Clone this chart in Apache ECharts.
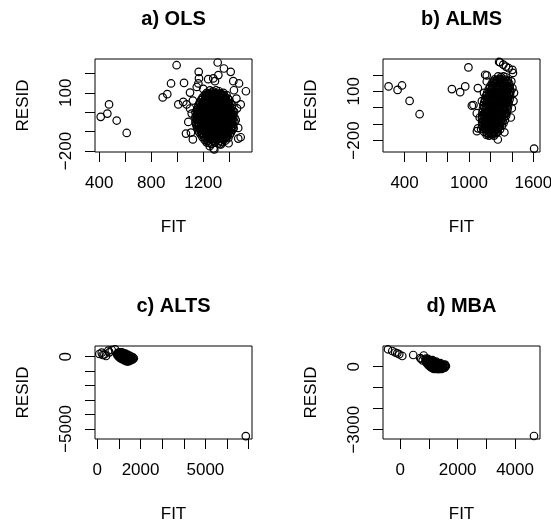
<!DOCTYPE html>
<html>
<head>
<meta charset="utf-8">
<title>Residual plots</title>
<script src="https://cdn.jsdelivr.net/npm/echarts@6/dist/echarts.min.js"></script>
<style>
html, body { margin: 0; padding: 0; background: #fff; }
#main { width: 551px; height: 527px; }
</style>
</head>
<body>
<div id="main"></div>
<script>
// panel titles
var panelTitles = ['a) OLS', 'b) ALMS', 'c) ALTS', 'd) MBA'];

// [FIT, RESID]
var olsPoints = [
  [411,-24],[462,-7],[475,40],[534,-43],[611,-107],
  [888,76],[923,93],[952,148],[995,242],[1008,40],[1046,53],[1052,151],[1072,40],[1098,101],[1067,-110],[1105,-105],
  [1162,148],[1165,208],[1167,174],[1238,170],[1277,174],[1290,160],[1311,256],[1316,191],[1359,225],[1411,208],[1431,160],
  [1475,148],[1528,108],[1436,113],[1488,40],[1469,-81],[1488,-129],[1469,-136],
  [1279,-187],[1285,-192],[1328,-165],[1336,-166],[1226,-156],
  [1098,19],[1085,-50],[1111,-7],[1120,-140],[1150,130],[1200,120],[1120,60],[1450,-40],[1460,20],[1455,70],[1395,-160],[1250,-175],
  [1240,-158],[1263,-163],[1291,-156],[1314,-161],[1345,-154],
  [1211,-143],[1232,-148],[1257,-141],[1280,-147],[1303,-144],[1327,-149],[1348,-140],[1372,-146],
  [1194,-128],[1217,-133],[1239,-127],[1261,-131],[1283,-126],[1306,-134],[1330,-129],[1353,-132],[1376,-127],[1393,-133],
  [1181,-115],[1204,-120],[1226,-114],[1249,-119],[1271,-116],[1293,-121],[1318,-113],[1339,-118],[1361,-115],[1382,-121],[1404,-116],
  [1167,-102],[1190,-107],[1213,-101],[1235,-106],[1258,-103],[1280,-108],[1302,-100],[1326,-105],[1348,-103],[1370,-108],[1393,-101],[1413,-106],
  [1159,-89],[1183,-94],[1204,-88],[1227,-93],[1248,-90],[1271,-95],[1293,-87],[1314,-92],[1338,-89],[1359,-94],[1382,-88],[1403,-93],[1425,-90],
  [1152,-77],[1173,-82],[1194,-76],[1217,-81],[1239,-78],[1260,-83],[1284,-75],[1304,-80],[1328,-77],[1348,-82],[1371,-76],[1394,-81],[1415,-78],[1434,-83],
  [1145,-64],[1167,-69],[1189,-63],[1209,-68],[1232,-65],[1254,-70],[1275,-62],[1299,-67],[1318,-64],[1343,-69],[1362,-63],[1387,-68],[1408,-65],[1429,-70],
  [1142,-51],[1161,-56],[1185,-50],[1204,-55],[1229,-52],[1248,-57],[1271,-49],[1291,-54],[1315,-51],[1335,-56],[1359,-50],[1379,-55],[1402,-52],[1421,-57],[1441,-51],
  [1148,-38],[1168,-43],[1191,-37],[1212,-42],[1236,-39],[1256,-44],[1280,-36],[1299,-41],[1323,-38],[1344,-43],[1367,-37],[1388,-42],[1411,-39],[1431,-44],
  [1139,-26],[1159,-31],[1179,-25],[1203,-30],[1223,-27],[1247,-32],[1267,-24],[1290,-29],[1310,-26],[1334,-31],[1354,-25],[1378,-30],[1397,-27],[1421,-32],[1440,-26],
  [1146,-13],[1165,-18],[1189,-12],[1209,-17],[1233,-14],[1253,-19],[1276,-11],[1296,-16],[1320,-13],[1340,-18],[1364,-12],[1383,-17],[1407,-14],[1427,-19],
  [1140,-1],[1162,-6],[1182,0],[1206,-5],[1225,-2],[1249,-7],[1269,1],[1293,-4],[1313,-1],[1337,-6],[1356,0],[1380,-5],[1400,-2],[1424,-7],[1438,2],
  [1151,12],[1170,7],[1194,13],[1214,8],[1238,11],[1257,6],[1281,14],[1301,9],[1325,12],[1345,7],[1368,13],[1389,8],[1413,11],[1430,6],
  [1157,24],[1177,19],[1201,25],[1220,20],[1244,23],[1264,18],[1288,26],[1308,21],[1331,24],[1351,19],[1375,25],[1395,20],[1419,23],
  [1164,37],[1184,32],[1208,38],[1228,33],[1252,36],[1272,31],[1296,39],[1315,34],[1339,37],[1359,32],[1383,38],[1403,33],[1423,36],
  [1173,50],[1194,45],[1218,51],[1238,46],[1261,49],[1281,44],[1305,52],[1325,47],[1349,50],[1369,45],[1392,51],[1410,46],
  [1183,62],[1204,57],[1228,63],[1248,58],[1272,61],[1291,56],[1315,64],[1335,59],[1359,62],[1379,57],[1400,63],
  [1194,75],[1215,70],[1239,76],[1258,71],[1282,74],[1302,69],[1326,77],[1346,72],[1369,75],[1389,70],
  [1211,88],[1231,83],[1255,89],[1275,84],[1299,87],[1318,82],[1342,90],[1361,85],[1379,88],
  [1227,100],[1247,95],[1271,101],[1290,96],[1314,99],[1334,94],[1355,100],
  [1251,112],[1274,107],[1299,113],[1321,108],
  // dense core
  [1228,-137],[1253,-135],[1272,-139],[1295,-136],[1317,-138],[1342,-135],[1363,-139],
  [1192,-111],[1216,-109],[1237,-112],[1261,-110],[1281,-113],[1307,-109],[1328,-111],[1351,-110],[1371,-112],[1394,-109],
  [1171,-85],[1194,-83],[1215,-86],[1239,-84],[1259,-87],[1284,-83],[1303,-86],[1327,-84],[1348,-87],[1371,-83],[1391,-86],[1414,-84],
  [1156,-60],[1179,-58],[1198,-61],[1222,-59],[1242,-62],[1265,-58],[1286,-61],[1309,-59],[1329,-62],[1353,-58],[1373,-61],[1397,-59],[1417,-62],
  [1151,-34],[1173,-32],[1193,-35],[1217,-33],[1238,-36],[1261,-32],[1282,-35],[1306,-33],[1326,-36],[1350,-32],[1370,-35],[1394,-33],[1414,-36],
  [1153,-9],[1176,-7],[1196,-10],[1220,-8],[1240,-11],[1263,-7],[1284,-10],[1307,-8],[1327,-11],[1351,-7],[1371,-10],[1395,-8],[1415,-11],
  [1162,16],[1185,18],[1205,15],[1229,17],[1249,14],[1273,18],[1293,15],[1317,17],[1337,14],[1361,18],[1381,15],[1405,17],
  [1176,41],[1199,43],[1219,40],[1243,42],[1263,39],[1287,43],[1307,40],[1331,42],[1351,39],[1375,43],[1395,40],
  [1194,66],[1217,68],[1237,65],[1261,67],[1281,64],[1305,68],[1325,65],[1349,67],[1369,64],
  [1221,91],[1244,93],[1264,90],[1288,92],[1308,89],[1332,93],[1350,90]
];

var almsPoints = [
  [251,129],[335,108],[376,135],[447,41],[540,-40],
  [841,113],[918,94],[965,129],[995,245],[1027,12],[1042,16],[1073,-34],[1083,119],[1083,-126],[1113,-130],[1074,-143],
  [1166,196],[1166,159],[1151,200],[1281,278],[1290,276],[1320,262],[1345,250],[1370,240],[1405,230],[1410,211],
  [1399,-4],[1405,119],[1269,-194],[1607,-249],
  [1395,160],[1420,90],[1415,40],[1390,-60],[1330,-150],[1150,-100],[1100,-60],[1120,40],[1140,90],
  [1272,190],[1298,186],[1322,191],[1343,185],
  [1240,172],[1263,167],[1289,173],[1312,168],[1337,171],[1362,166],
  [1218,152],[1240,147],[1264,153],[1287,148],[1311,151],[1334,146],[1357,152],[1375,147],
  [1199,132],[1222,127],[1245,133],[1268,128],[1292,131],[1315,126],[1338,132],[1360,127],[1380,130],
  [1184,112],[1206,107],[1229,113],[1252,108],[1276,111],[1298,106],[1322,112],[1344,107],[1366,110],[1384,105],
  [1170,92],[1192,87],[1215,93],[1238,88],[1262,91],[1284,86],[1308,92],[1330,87],[1353,90],[1373,85],[1386,93],
  [1159,72],[1181,67],[1204,73],[1227,68],[1251,71],[1273,66],[1297,72],[1319,67],[1342,70],[1364,65],[1384,71],
  [1150,52],[1172,47],[1195,53],[1218,48],[1242,51],[1264,46],[1288,52],[1310,47],[1333,50],[1355,45],[1379,51],
  [1142,32],[1164,27],[1187,33],[1210,28],[1234,31],[1256,26],[1280,32],[1302,27],[1325,30],[1347,25],[1370,31],
  [1135,12],[1157,7],[1180,13],[1203,8],[1227,11],[1249,6],[1273,12],[1295,7],[1318,10],[1340,5],[1365,11],
  [1130,-8],[1152,-13],[1175,-7],[1198,-12],[1222,-9],[1244,-14],[1268,-8],[1290,-13],[1313,-10],[1335,-15],[1360,-9],
  [1126,-28],[1148,-33],[1171,-27],[1194,-32],[1218,-29],[1240,-34],[1264,-28],[1286,-33],[1309,-30],[1331,-35],[1354,-29],
  [1123,-48],[1145,-53],[1168,-47],[1191,-52],[1215,-49],[1237,-54],[1261,-48],[1283,-53],[1306,-50],[1328,-55],[1346,-49],
  [1122,-68],[1144,-73],[1167,-67],[1190,-72],[1213,-69],[1235,-74],[1259,-68],[1281,-73],[1303,-70],[1335,-75],
  [1123,-88],[1145,-93],[1168,-87],[1191,-92],[1214,-89],[1236,-94],[1260,-88],[1282,-93],[1302,-90],[1322,-95],
  [1126,-108],[1149,-113],[1172,-107],[1195,-112],[1218,-109],[1240,-114],[1264,-108],[1286,-113],[1307,-110],
  [1132,-128],[1155,-133],[1178,-127],[1201,-132],[1224,-129],[1246,-134],[1270,-128],[1290,-133],
  [1142,-148],[1165,-153],[1188,-147],[1211,-152],[1234,-149],[1256,-154],[1270,-146],
  [1165,-166],[1188,-171],[1211,-165],[1234,-170],
  // dense core
  [1230,160],[1253,162],[1276,159],[1299,161],[1324,158],[1347,161],
  [1195,120],[1218,122],[1240,119],[1263,121],[1287,118],[1311,122],[1333,119],[1355,121],[1372,118],
  [1170,80],[1194,82],[1216,79],[1239,81],[1263,78],[1286,82],[1308,79],[1332,81],[1354,78],[1375,82],
  [1153,40],[1177,42],[1199,39],[1222,41],[1246,38],[1268,42],[1291,39],[1315,41],[1337,38],[1360,42],
  [1143,0],[1167,2],[1189,-1],[1212,1],[1236,-2],[1258,2],[1281,-1],[1305,1],[1327,-2],[1350,2],
  [1136,-40],[1160,-38],[1182,-41],[1205,-39],[1229,-42],[1251,-38],[1274,-41],[1298,-39],[1320,-42],[1341,-38],
  [1133,-80],[1157,-78],[1179,-81],[1202,-79],[1226,-82],[1248,-78],[1270,-81],[1293,-79],[1313,-82],
  [1140,-120],[1164,-118],[1186,-121],[1209,-119],[1233,-122],[1255,-118],[1278,-121],
  [1175,-158],[1199,-156],[1223,-159],[1246,-157]
];

var altsPoints = [
  [93,187],[204,277],[250,118],[403,48],[330,160],[509,415],[667,464],[819,512],[560,300],
  [6870,-5488],
  [1000,300],[1070,290],[1140,305],
  [940,225],[1010,215],[1080,222],[1150,212],[1230,220],[1300,210],
  [920,145],[990,135],[1060,142],[1130,132],[1200,140],[1270,130],[1340,138],[1410,128],
  [950,65],[1020,55],[1090,62],[1160,52],[1230,60],[1300,50],[1370,58],[1440,48],[1510,56],
  [1000,-15],[1070,-25],[1140,-18],[1210,-28],[1280,-20],[1350,-30],[1420,-22],[1490,-32],[1560,-24],[1630,-30],
  [1060,-95],[1130,-105],[1200,-98],[1270,-108],[1340,-100],[1410,-110],[1480,-102],[1550,-112],[1620,-104],[1690,-110],
  [1150,-175],[1220,-185],[1290,-178],[1360,-188],[1430,-180],[1500,-190],[1570,-182],[1640,-188],
  [1260,-255],[1330,-265],[1400,-258],[1470,-268],[1540,-260],
  [1360,-330],[1440,-325]
];

var mbaPoints = [
  [-428,829],[-278,748],[-174,676],[-104,638],[-35,590],[70,510],[452,557],[696,414],[730,367],[817,533],[780,300],
  [4661,-3300],
  [900,385],[960,375],
  [880,315],[940,305],[1000,312],[1060,302],[1120,310],
  [890,245],[950,235],[1010,242],[1070,232],[1130,240],[1190,230],[1250,238],
  [920,175],[980,165],[1040,172],[1100,162],[1160,170],[1220,160],[1280,168],[1340,158],[1400,166],
  [960,105],[1020,95],[1080,102],[1140,92],[1200,100],[1260,90],[1320,98],[1380,88],[1440,96],[1500,90],[1560,100],
  [1010,35],[1070,25],[1130,32],[1190,22],[1250,30],[1310,20],[1370,28],[1430,18],[1490,26],[1550,20],[1590,30],
  [1070,-35],[1130,-45],[1190,-38],[1250,-48],[1310,-40],[1370,-50],[1430,-42],[1490,-52],[1550,-44],
  [1150,-100],[1210,-110],[1270,-103],[1330,-112],[1390,-105],[1450,-110]
];

var panelPoints = [olsPoints, almsPoints, altsPoints, mbaPoints];

// axis extents of each panel
var xRanges = [[367, 1575], [199, 1662], [-107, 7157], [-602, 4870]];
var yRanges = [[-205, 274], [-270, 296], [-5692, 740], [-3443, 985]];

// tick marks and the labels R kept
var xTicks = [
  [400, 600, 800, 1000, 1200, 1400],
  [400, 600, 800, 1000, 1200, 1400, 1600],
  [0, 1000, 2000, 3000, 4000, 5000, 6000, 7000],
  [0, 1000, 2000, 3000, 4000]
];
var xTickLabels = [[400, 800, 1200], [400, 1000, 1600], [0, 2000, 5000], [0, 2000, 4000]];
var yTicks = [
  [-200, -100, 0, 100, 200],
  [-200, -100, 0, 100, 200],
  [-5000, -4000, -3000, -2000, -1000, 0],
  [-3000, -2000, -1000, 0]
];
var yTickLabels = [[-200, 100], [-200, 100], [-5000, 0], [-3000, 0]];

var FONT = 'Liberation Sans, Arial, Helvetica, sans-serif';
var boxLeft = [95, 383, 95, 383];
var boxTop = [59, 59, 346, 346];
var boxW = 157, boxH = 93;

function minusSign(v) {
  return String(v).replace('-', '\u2212');
}

var grids = [], xAxes = [], yAxes = [], series = [], texts = [];
for (var i = 0; i < 4; i++) {
  grids.push({
    left: boxLeft[i], top: boxTop[i], width: boxW, height: boxH,
    show: true, borderColor: '#000', borderWidth: 1, backgroundColor: 'transparent',
    outerBoundsMode: 'none'
  });
  xAxes.push({
    type: 'value', gridIndex: i, position: 'bottom',
    min: xRanges[i][0], max: xRanges[i][1],
    splitLine: { show: false },
    axisLine: { show: false, onZero: false },
    axisTick: { show: true, inside: false, length: 10, lineStyle: { color: '#000', width: 1 }, customValues: xTicks[i] },
    axisLabel: { customValues: xTickLabels[i], color: '#000', fontSize: 17, fontFamily: FONT, margin: 23, formatter: minusSign },
    name: 'FIT', nameLocation: 'middle', nameGap: 67,
    nameTextStyle: { color: '#000', fontSize: 17, fontFamily: FONT }
  });
  yAxes.push({
    type: 'value', gridIndex: i, position: 'left',
    min: yRanges[i][0], max: yRanges[i][1],
    splitLine: { show: false },
    axisLine: { show: false, onZero: false },
    axisTick: { show: true, inside: false, length: 10, lineStyle: { color: '#000', width: 1 }, customValues: yTicks[i] },
    axisLabel: { customValues: yTickLabels[i], rotate: 90, color: '#000', fontSize: 17, fontFamily: FONT, margin: 20, formatter: minusSign },
    name: 'RESID', nameLocation: 'middle', nameGap: 63, nameRotate: 90,
    nameTextStyle: { color: '#000', fontSize: 17, fontFamily: FONT }
  });
  series.push({
    type: 'scatter', xAxisIndex: i, yAxisIndex: i,
    data: panelPoints[i],
    symbol: 'circle', symbolSize: 7.5,
    itemStyle: { color: 'rgba(0,0,0,0)', borderColor: '#000', borderWidth: 1.2, opacity: 1 },
    emphasis: { disabled: true },
    silent: true
  });
  texts.push({
    type: 'text',
    x: boxLeft[i] + boxW / 2, y: boxTop[i] - 40,
    style: { text: panelTitles[i], fill: '#000', font: 'bold 20px ' + FONT, align: 'center', verticalAlign: 'middle' }
  });
}

var chart = echarts.init(document.getElementById('main'));
chart.setOption({
  backgroundColor: '#fff',
  animation: false,
  grid: grids,
  xAxis: xAxes,
  yAxis: yAxes,
  series: series,
  graphic: texts
});
</script>
</body>
</html>
